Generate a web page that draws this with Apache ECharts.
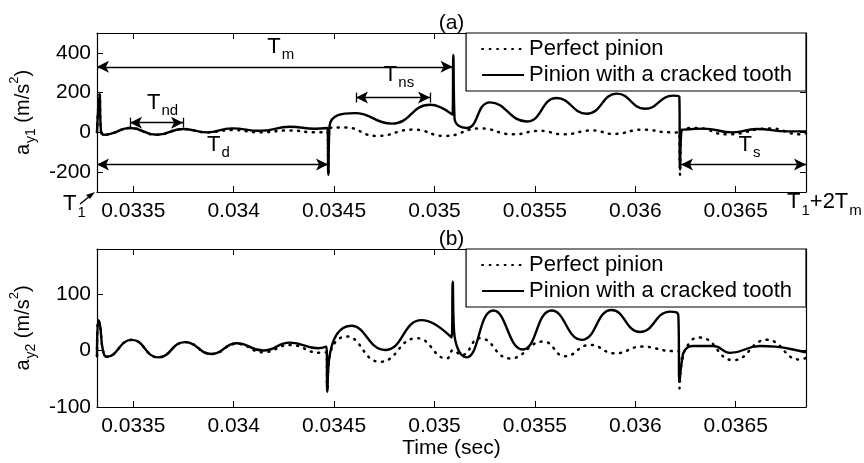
<!DOCTYPE html>
<html>
<head>
<meta charset="utf-8">
<script src="https://cdn.jsdelivr.net/npm/echarts@6/dist/echarts.min.js"></script>
<style>
  html, body { margin: 0; padding: 0; background: #fff; }
  #chart { width: 864px; height: 463px; }
</style>
</head>
<body>
<div id="chart"></div>
<script>
// time window: T1 ... T1 + 2Tm
var tMin = 0.0333192, tMax = 0.03685;
var xTicks = [0.0335, 0.034, 0.0345, 0.035, 0.0355, 0.036, 0.0365];
var yTicksA = [-200, 0, 200, 400];
var yTicksB = [-100, 0, 100];

// (a) a_y1
var timeA_cracked = [0.0333192, 0.0333317, 0.0333391, 0.0333541, 0.0333939, 0.0334836, 0.0336165, 0.033749, 0.0338655, 0.0339915,
  0.034131, 0.0342804, 0.0344049, 0.0344671, 0.0344711, 0.0344771, 0.034604, 0.0347868, 0.0349776, 0.0350896,
  0.0350936, 0.0350996, 0.0351603, 0.0352764, 0.0354591, 0.0356085, 0.035758, 0.0359088, 0.0360483, 0.0361892,
  0.0362191, 0.0362226, 0.03623, 0.0362425, 0.0363386, 0.0364865, 0.0366045, 0.036754, 0.03685];
var accA_cracked = [0, 190, 5, -12, -5, 22, -12, 17, 0, 20,
  8, 28, 18, 22, -213, 30, 97, 44, 139, 89,
  390, 72, 22, 151, 55, 173, 94, 195, 119, 185,
  180, -188, 10, 14, 19, 0, 17, 5, 5];

var timeA_perfect = [0.0333192, 0.0333317, 0.0333391, 0.0333541, 0.0333939, 0.0334836, 0.0336165, 0.033749, 0.0338655, 0.0339915,
  0.034131, 0.0342804, 0.0344049, 0.0344671, 0.0344711, 0.0344771, 0.0345543, 0.0347121, 0.0348944, 0.0350523,
  0.0352266, 0.0353909, 0.0355254, 0.0356399, 0.0357893, 0.0358889, 0.0360383, 0.0361728, 0.0362191, 0.0362226,
  0.03623, 0.0363057, 0.0364551, 0.0366708, 0.0368202, 0.03685];
var accA_perfect = [0, 190, 5, -12, -5, 22, -12, 17, 0, 12,
  0, 10, 0, 2, -213, 22, 25, -18, 14, -18,
  20, -10, 8, -10, 10, -8, 14, 0, 0, -213,
  10, 22, -10, 20, -10, -5];

// (b) a_y2
var timeB_cracked = [0.0333192, 0.0333257, 0.0333342, 0.0333491, 0.0333675, 0.033492, 0.0336245, 0.0337575, 0.0338904, 0.0340149,
  0.0341474, 0.0342804, 0.0344198, 0.0344621, 0.0344661, 0.0344746, 0.0345876, 0.0347535, 0.0349362, 0.0350856,
  0.0350906, 0.0350971, 0.0351603, 0.0352928, 0.0354392, 0.0355836, 0.035733, 0.0358824, 0.0360234, 0.0361728,
  0.0362141, 0.0362201, 0.0362325, 0.0362475, 0.0362888, 0.0363884, 0.0364716, 0.036621, 0.0366957, 0.0368366, 0.03685];
var accB_cracked = [-10, 54, 45, 0, -11, 19, -12, 15, -6, 13,
  0, 14, 4, 7, -73, -17, 44, 1, 54, 23,
  122, 36, -12, 71, 2, 71, 19, 72, 33, 69,
  63, -55, -17, 1, 8, 8, -4, 8, 7, -2, -3];

var timeB_perfect = [0.0333192, 0.0333257, 0.0333342, 0.0333491, 0.0333675, 0.033492, 0.0336245, 0.0337575, 0.0338904, 0.0340149,
  0.0341474, 0.0342804, 0.0344298, 0.0344621, 0.0344661, 0.0344746, 0.0345627, 0.0347286, 0.0349113, 0.0350607,
  0.0350936, 0.0351354, 0.0352266, 0.035376, 0.0355418, 0.0356499, 0.0357744, 0.0358989, 0.0360318, 0.0361892,
  0.0362176, 0.0362201, 0.0362325, 0.0362724, 0.0363222, 0.036488, 0.0366543, 0.0368202, 0.03685];
var accB_perfect = [-10, 54, 45, 0, -11, 19, -12, 15, -6, 12,
  -3, 10, -4, -3, -73, -17, 25, -20, 22, -14,
  1, -8, 22, -14, 16, -10, 10, -5, 7, -1,
  -1, -67, -20, 15, 23, -17, 19, -16, -13];

// interval annotations in (a)
var spanSub = ['m', 'nd', 'd', 'ns', 's'];
var spanFrom = [tMin, 0.0334836, tMin, 0.034609, 0.0362276];
var spanTo = [0.0350896, 0.0337475, 0.0344696, 0.0349776, tMax];
var spanLevel = [330, 49, -162, 175, -162];
var spanBars = [false, true, false, true, false];

var FONT = '"Liberation Sans", Arial, Helvetica, sans-serif';
var names = ['Perfect pinion', 'Pinion with a cracked tooth'];

function pairs(t, a) {
  return t.map(function (v, i) { return [v, a[i]]; });
}

var subRich = {
  t: { fontSize: 22, fontFamily: FONT, color: '#000', verticalAlign: 'top', lineHeight: 22 },
  s: { fontSize: 15, fontFamily: FONT, color: '#000', verticalAlign: 'top', padding: [12, 0, 0, 1], lineHeight: 15 }
};

var nameRich = {
  m: { fontSize: 20, fontFamily: FONT, color: '#000', verticalAlign: 'top', padding: [5, 0, 0, 0] },
  s: { fontSize: 14, fontFamily: FONT, color: '#000', verticalAlign: 'top', padding: [16, 0, 0, 1] },
  p: { fontSize: 13, fontFamily: FONT, color: '#000', verticalAlign: 'top', padding: [0, 0, 0, 0] }
};

var markData = [];
var barH = 25;
spanSub.forEach(function (sub, i) {
  markData.push([
    { coord: [spanFrom[i], spanLevel[i]], symbol: 'arrow',
      label: { show: true, position: 'insideMiddleTop', distance: 2,
        formatter: '{t|T}{s|' + sub + '}', rich: subRich, offset: [6, sub === 'ns' ? -10 : -7] } },
    { coord: [spanTo[i], spanLevel[i]], symbol: 'arrow' }
  ]);
  if (spanBars[i]) {
    [spanFrom[i], spanTo[i]].forEach(function (t) {
      markData.push([
        { coord: [t, spanLevel[i] - barH], symbol: 'none', label: { show: false } },
        { coord: [t, spanLevel[i] + barH], symbol: 'none' }
      ]);
    });
  }
});

function xAxisFor(grid, pos, withLabels, name) {
  return {
    type: 'value', gridIndex: grid, position: pos, min: tMin, max: tMax,
    name: name || '', nameLocation: 'middle',
    nameGap: pos === 'top' ? -1 : 30,
    nameTextStyle: { fontSize: 21, fontFamily: FONT, color: '#000' },
    axisLine: { show: true, onZero: false, lineStyle: { color: '#000', width: 1.2 } },
    axisTick: { show: true, inside: true, length: 6, customValues: xTicks, lineStyle: { color: '#000' } },
    axisLabel: { show: withLabels, customValues: xTicks, margin: 9, fontSize: 21, fontFamily: FONT, color: '#000',
      formatter: function (v) { return String(+v.toFixed(4)); } },
    splitLine: { show: false }
  };
}

function yAxisFor(grid, pos, min, max, ticks, name) {
  return {
    type: 'value', gridIndex: grid, position: pos, min: min, max: max,
    name: name || '', nameLocation: 'middle', nameGap: 43, nameRotate: 90,
    nameTextStyle: { rich: nameRich },
    axisLine: { show: true, onZero: false, lineStyle: { color: '#000', width: 1.2 } },
    axisTick: { show: true, inside: true, length: 6, customValues: ticks, lineStyle: { color: '#000' } },
    axisLabel: { show: pos === 'left', customValues: ticks, margin: 6, fontSize: 21, fontFamily: FONT, color: '#000' },
    splitLine: { show: false }
  };
}

function legendFor(top) {
  return {
    data: names, orient: 'vertical', right: 58, top: top,
    backgroundColor: '#fff', borderColor: '#000', borderWidth: 1.2, borderRadius: 0,
    padding: [5, 14, 5, 15], itemGap: 4, itemWidth: 42, itemHeight: 20,
    itemStyle: { opacity: 0 },
    textStyle: { fontSize: 22, fontFamily: FONT, color: '#000' }
  };
}

var solid = { color: '#000', width: 2.4 };
var dotted = { color: '#000', width: 2.5, type: [1, 6.5], cap: 'round' };

function line(name, grid, data, style, extra) {
  var s = {
    name: name, type: 'line', xAxisIndex: grid * 2, yAxisIndex: grid * 2,
    data: data, showSymbol: false, symbol: 'none', smooth: 0.5,
    lineStyle: style, itemStyle: { color: '#000' }, z: style.type ? 3 : 2
  };
  if (extra) { for (var k in extra) s[k] = extra[k]; }
  return s;
}

var option = {
  animation: false,
  backgroundColor: '#fff',
  grid: [
    { left: 97, right: 58, top: 33, height: 159 },
    { left: 97, right: 58, top: 249, height: 158 }
  ],
  xAxis: [
    xAxisFor(0, 'bottom', true),
    xAxisFor(0, 'top', false, '(a)'),
    xAxisFor(1, 'bottom', true, 'Time (sec)'),
    xAxisFor(1, 'top', false, '(b)')
  ],
  yAxis: [
    yAxisFor(0, 'left', -300, 500, yTicksA, '{m|a}{s|y1}{m| (m/s}{p|2}{m|)}'),
    yAxisFor(0, 'right', -300, 500, yTicksA),
    yAxisFor(1, 'left', -100, 180, yTicksB, '{m|a}{s|y2}{m| (m/s}{p|2}{m|)}'),
    yAxisFor(1, 'right', -100, 180, yTicksB)
  ],
  legend: [legendFor(33), legendFor(249)],
  series: [
    line(names[1], 0, pairs(timeA_cracked, accA_cracked), solid, {
      markLine: {
        silent: true, symbolSize: [9, 12], animation: false,
        lineStyle: { color: '#000', width: 1.3, type: 'solid' },
        data: markData
      }
    }),
    line(names[0], 0, pairs(timeA_perfect, accA_perfect), dotted),
    line(names[1], 1, pairs(timeB_cracked, accB_cracked), solid),
    line(names[0], 1, pairs(timeB_perfect, accB_perfect), dotted)
  ],
  graphic: [
    { type: 'text', left: 63, top: 193, style: { text: '{t|T}{s|1}', rich: subRich } },
    { type: 'line', shape: { x1: 80, y1: 204, x2: 90, y2: 196 }, style: { stroke: '#000', lineWidth: 1.5 } },
    { type: 'polygon', shape: { points: [[95, 192], [86, 195], [90, 199]] }, style: { fill: '#000' } },
    { type: 'text', left: 787, top: 191, style: { text: '{t|T}{s|1}{t|+2T}{s|m}', rich: subRich } }
  ]
};

var chart = echarts.init(document.getElementById('chart'));
chart.setOption(option);
</script>
</body>
</html>
